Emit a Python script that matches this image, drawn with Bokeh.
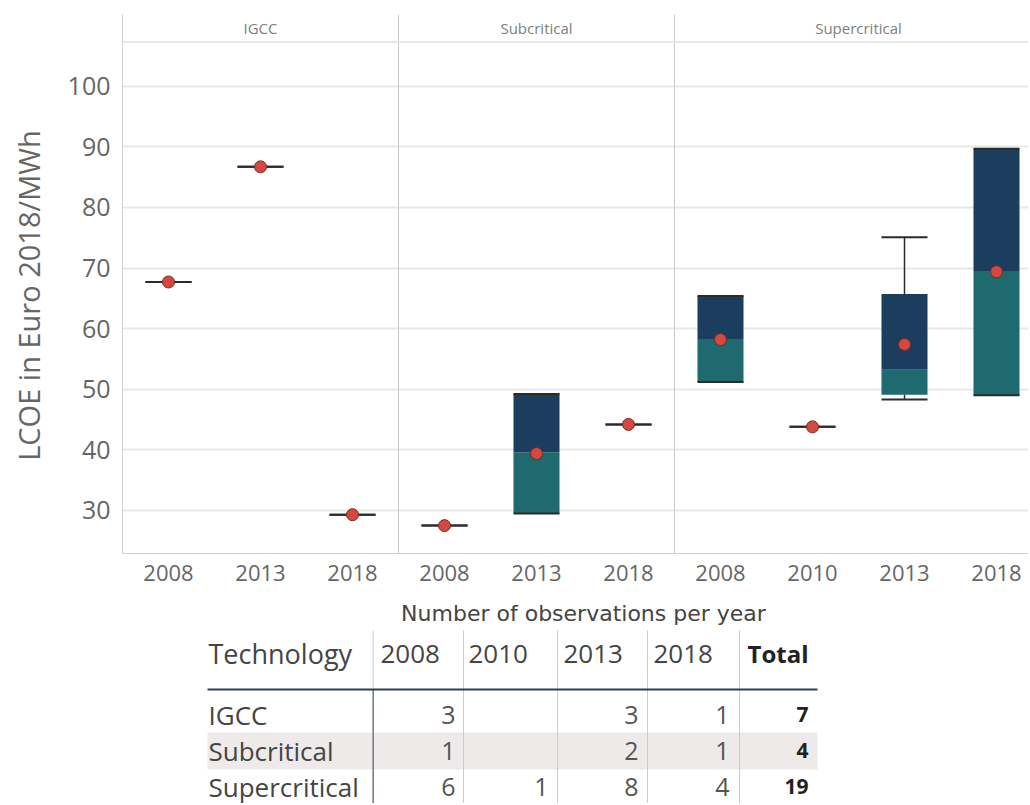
import math
from bokeh.plotting import figure
from bokeh.models import Range1d, FixedTicker, Span
from bokeh.layouts import column, row
from bokeh.embed import file_html
from bokeh.resources import INLINE
from bokeh.core.properties import value

# ---------------- data ----------------
technologies = ["IGCC", "IGCC", "IGCC",
                "Subcritical", "Subcritical", "Subcritical",
                "Supercritical", "Supercritical", "Supercritical", "Supercritical"]
years = ["2008", "2013", "2018", "2008", "2013", "2018", "2008", "2010", "2013", "2018"]
lcoe_min = [67.7, 86.7, 29.3, 27.5, 29.5, 44.2, 51.2, 43.8, 48.3, 49.0]
lcoe_q1 = [67.7, 86.7, 29.3, 27.5, 29.5, 44.2, 51.2, 43.8, 49.1, 49.0]
lcoe_median = [67.7, 86.7, 29.3, 27.5, 39.6, 44.2, 58.3, 43.8, 53.2, 69.5]
lcoe_q3 = [67.7, 86.7, 29.3, 27.5, 49.2, 44.2, 65.4, 43.8, 65.7, 89.7]
lcoe_max = [67.7, 86.7, 29.3, 27.5, 49.2, 44.2, 65.4, 43.8, 75.1, 89.7]
lcoe_mean = [67.7, 86.7, 29.3, 27.5, 39.4, 44.2, 58.2, 43.8, 57.4, 69.4]
y_ticks = [30, 40, 50, 60, 70, 80, 90, 100]
y_title = "LCOE in Euro 2018/MWh"

table_title = "Number of observations per year"
table_years = ["2008", "2010", "2013", "2018"]
table_techs = ["IGCC", "Subcritical", "Supercritical"]
obs_igcc = [3, None, 3, 1]
obs_subcritical = [1, None, 2, 1]
obs_supercritical = [6, 1, 8, 4]

# ---------------- style ----------------
NAVY = "#1b3d5e"
TEAL = "#1e6a6e"
DOT_FILL = "#d4493f"
DOT_LINE = "#7a2a22"
WHISKER = "#2b2b2b"
FONT = "Open Sans"

TOTAL_W, TOTAL_H = 1028, 803
LEFT_W = 60            # strip holding the rotated y title
FRAME_L = 122          # page x of plot frame left edge
BORDER_L = FRAME_L - LEFT_W
MAIN_W = TOTAL_W - LEFT_W
FRAME_W = TOTAL_W - FRAME_L
MAIN_H = 592
BAND_PX = 92

# ---------------- y title strip ----------------
ls = figure(width=LEFT_W, height=TOTAL_H, x_range=Range1d(0, LEFT_W), y_range=Range1d(TOTAL_H, 0),
            x_axis_type=None, y_axis_type=None, output_backend="svg", toolbar_location=None,
            min_border=0)
ls.outline_line_color = None
ls.grid.visible = False
ls.text(x=[28], y=[295], text=[y_title], angle=math.pi / 2,
        text_align="center", text_baseline="middle",
        text_font=value(FONT), text_font_size="29px", text_color="#666666")

# ---------------- main chart ----------------
n = len(years)
xpos = [i + 0.5 for i in range(n)]

p = figure(width=MAIN_W, height=MAIN_H,
           x_range=Range1d(0, FRAME_W / BAND_PX),
           y_range=Range1d(22.90, 111.84),
           output_backend="svg", toolbar_location=None,
           min_border_left=BORDER_L, min_border_right=0,
           min_border_top=14, min_border_bottom=MAIN_H - 553)
p.outline_line_color = None
p.background_fill_color = "white"
p.border_fill_color = "white"

p.xgrid.visible = False
p.ygrid.ticker = FixedTicker(ticks=y_ticks)
p.ygrid.grid_line_color = "#e8e8e8"
p.ygrid.grid_line_width = 2

p.yaxis.ticker = FixedTicker(ticks=y_ticks)
p.yaxis.major_label_text_font = FONT
p.yaxis.major_label_text_font_size = "25px"
p.yaxis.major_label_text_color = "#666666"
p.yaxis.major_label_standoff = 12
p.yaxis.major_tick_out = 0
p.yaxis.major_tick_in = 0
p.yaxis.minor_tick_out = 0
p.yaxis.minor_tick_in = 0
p.yaxis.axis_line_color = "#d0d0d0"

p.xaxis.ticker = FixedTicker(ticks=xpos)
p.xaxis.major_label_overrides = {x: y for x, y in zip(xpos, years)}
p.xaxis.major_label_text_font = FONT
p.xaxis.major_label_text_font_size = "22px"
p.xaxis.major_label_text_color = "#666666"
p.xaxis.major_label_standoff = 11
p.xaxis.major_tick_out = 0
p.xaxis.major_tick_in = 0
p.xaxis.minor_tick_out = 0
p.xaxis.minor_tick_in = 0
p.xaxis.axis_line_color = "#d0d0d0"

# facets
facets = []
for tech in technologies:
    if tech not in facets:
        facets.append(tech)
facet_start = [technologies.index(f) for f in facets]
facet_end = [s + technologies.count(f) for s, f in zip(facet_start, facets)]
facet_center = [(s + e) / 2 for s, e in zip(facet_start, facet_end)]

for e in facet_end[:-1]:
    p.add_layout(Span(location=e, dimension="height", line_color="#c8c8c8", line_width=1))
p.add_layout(Span(location=107.3, dimension="width", line_color="#e8e8e8", line_width=2))
p.text(x=facet_center, y=[109.6] * len(facets), text=facets,
       text_align="center", text_baseline="middle",
       text_font=value(FONT), text_font_size="15px", text_color="#808080")

# boxes
p.vbar(x=xpos, width=0.5, bottom=lcoe_q1, top=lcoe_median, fill_color=TEAL, line_color=None)
p.vbar(x=xpos, width=0.5, bottom=lcoe_median, top=lcoe_q3, fill_color=NAVY, line_color=None)
# whiskers
p.segment(x0=xpos, y0=lcoe_q3, x1=xpos, y1=lcoe_max, line_color=WHISKER, line_width=1.5)
p.segment(x0=xpos, y0=lcoe_min, x1=xpos, y1=lcoe_q1, line_color=WHISKER, line_width=1.5)
cap_l = [x - 0.25 for x in xpos]
cap_r = [x + 0.25 for x in xpos]
p.segment(x0=cap_l, y0=lcoe_max, x1=cap_r, y1=lcoe_max, line_color=WHISKER, line_width=2)
p.segment(x0=cap_l, y0=lcoe_min, x1=cap_r, y1=lcoe_min, line_color=WHISKER, line_width=2)
# means
p.scatter(x=xpos, y=lcoe_mean, size=12, fill_color=DOT_FILL, line_color=DOT_LINE, line_width=1)

# ---------------- table (coordinates = page pixels) ----------------
T_TOP, T_BOTTOM = MAIN_H, TOTAL_H
t = figure(width=MAIN_W, height=T_BOTTOM - T_TOP,
           x_range=Range1d(FRAME_L, TOTAL_W), y_range=Range1d(T_BOTTOM, T_TOP),
           x_axis_type=None, y_axis_type=None,
           output_backend="svg", toolbar_location=None,
           min_border_left=BORDER_L, min_border_right=0, min_border_top=0, min_border_bottom=0)
t.outline_line_color = None
t.grid.visible = False
t.background_fill_color = "white"
t.border_fill_color = "white"

tbl_left, tbl_right = 207, 817
col_sep = [372.7, 463, 557, 647, 739]
header_y = 653
underline_y = 689
row_y = [714, 750, 786]
tech_left = 208
year_left = [380, 468, 563, 653]
year_right = [455, 548, 638, 729]
total_left = 747
total_right = 808

t.text(x=[583], y=[613], text=[table_title], text_align="center", text_baseline="middle",
       text_font=value("DejaVu Sans"), text_font_size="22px", text_color="#444444")

t.quad(left=[tbl_left], right=[tbl_right], top=[732], bottom=[769],
       fill_color="#eeeaea", line_color=None)

t.segment(x0=col_sep, y0=[630] * len(col_sep), x1=col_sep, y1=[T_BOTTOM] * len(col_sep),
          line_color="#c9ced3", line_width=1)
t.segment(x0=[col_sep[0]], y0=[underline_y], x1=[col_sep[0]], y1=[T_BOTTOM],
          line_color="#6d7f90", line_width=1.5)
t.segment(x0=[tbl_left], y0=[underline_y], x1=[tbl_right], y1=[underline_y],
          line_color="#2e3f4f", line_width=2)

t.text(x=[tech_left], y=[header_y], text=["Technology"], text_align="left", text_baseline="middle",
       text_font=value(FONT), text_font_size="27px", text_color="#444444")
t.text(x=year_left, y=[header_y] * len(table_years), text=table_years,
       text_align="left", text_baseline="middle",
       text_font=value(FONT), text_font_size="26px", text_color="#444444")
t.text(x=[total_left], y=[header_y], text=["Total"], text_align="left", text_baseline="middle",
       text_font=value(FONT), text_font_size="24px", text_font_style="bold", text_color="#222222")

rows = [obs_igcc, obs_subcritical, obs_supercritical]
t.text(x=[tech_left] * len(table_techs), y=row_y, text=table_techs,
       text_align="left", text_baseline="middle",
       text_font=value(FONT), text_font_size="26px", text_color="#444444")
for ry, vals in zip(row_y, rows):
    xs = [xr for xr, v in zip(year_right, vals) if v is not None]
    txt = [str(v) for v in vals if v is not None]
    t.text(x=xs, y=[ry] * len(xs), text=txt, text_align="right", text_baseline="middle",
           text_font=value(FONT), text_font_size="25px", text_color="#555555")
    total = sum(v for v in vals if v is not None)
    t.text(x=[total_right], y=[ry], text=[str(total)], text_align="right", text_baseline="middle",
           text_font=value(FONT), text_font_size="21px", text_font_style="bold", text_color="#222222")

layout = row(ls, column(p, t, spacing=0), spacing=0)
open("out.html", "w").write(file_html(layout, INLINE))
